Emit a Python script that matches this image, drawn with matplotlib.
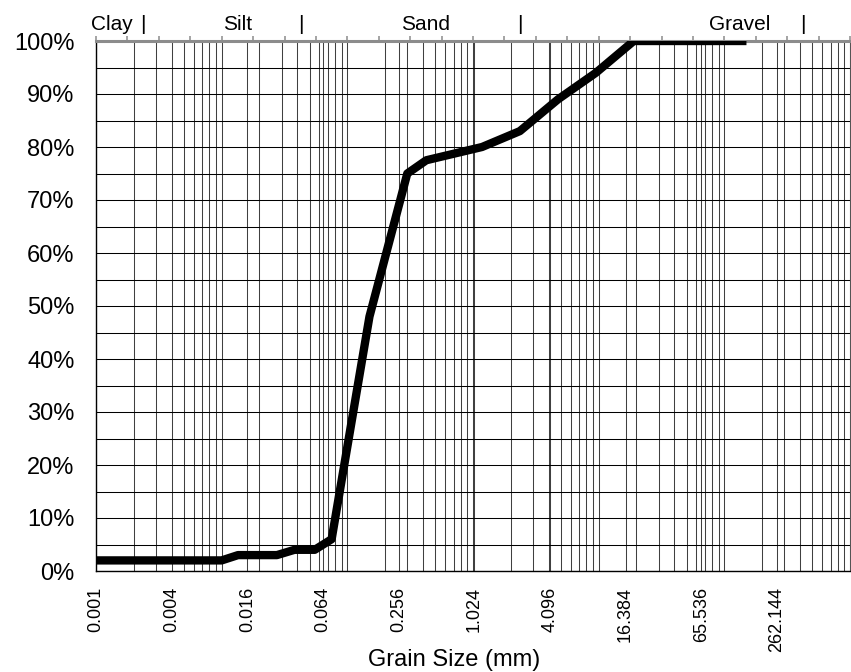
import matplotlib
matplotlib.use("Agg")
import matplotlib.pyplot as plt
from matplotlib.ticker import FixedLocator, NullLocator, LogLocator, NullFormatter

plt.rcParams["font.family"] = ["Liberation Sans", "DejaVu Sans"]

# Particle-size distribution (sieve + hydrometer)
grain_size_mm = [0.001, 0.01, 0.0135, 0.0275, 0.038, 0.055, 0.075, 0.15,
                 0.3, 0.425, 1.18, 2.36, 4.75, 9.5, 19.0, 150.0]
percent_finer = [2, 2, 3, 3, 4, 4, 6, 48, 75, 77.5, 80, 83, 89, 94, 100, 100]

size_ticks = [0.001, 0.004, 0.016, 0.064, 0.256, 1.024, 4.096, 16.384,
              65.536, 262.144]
size_tick_labels = ["0.001", "0.004", "0.016", "0.064", "0.256", "1.024",
                    "4.096", "16.384", "65.536", "262.144"]
percent_ticks = [0, 10, 20, 30, 40, 50, 60, 70, 80, 90, 100]
percent_tick_labels = ["0%", "10%", "20%", "30%", "40%", "50%", "60%",
                       "70%", "80%", "90%", "100%"]
soil_classes = ["Clay", "Silt", "Sand", "Gravel"]

W, H = 851, 672
fig = plt.figure(figsize=(W / 100, H / 100), dpi=100)
L, R, T, B = 96, 850, 41, 571
ax = fig.add_axes([L / W, 1 - B / H, (R - L) / W, (B - T) / H])

ax.set_xscale("log")
ax.set_xlim(0.001, 1000)
ax.set_ylim(0, 100)

# grid: decade subdivisions plus the labelled size ticks
ax.xaxis.set_major_locator(FixedLocator(size_ticks))
ax.set_xticklabels(size_tick_labels, rotation=90, fontsize=13)
ax.xaxis.set_minor_locator(LogLocator(base=10, subs=range(1, 10), numticks=50))
ax.xaxis.set_minor_formatter(NullFormatter())
ax.yaxis.set_major_locator(FixedLocator(percent_ticks))
ax.set_yticklabels(percent_tick_labels, fontsize=17)
ax.yaxis.set_minor_locator(FixedLocator([5, 15, 25, 35, 45, 55, 65, 75, 85, 95]))

ax.grid(True, axis="x", which="both", color="#404040", lw=0.75)
ax.grid(True, axis="y", which="both", color="black", lw=0.75)
ax.set_axisbelow(True)

ax.tick_params(axis="x", which="both", length=0, pad=11.5)
ax.tick_params(axis="y", which="both", length=0, pad=15.5)

for side in ("left", "bottom"):
    ax.spines[side].set_color("black")
    ax.spines[side].set_linewidth(1.0)
ax.spines["right"].set_color("#555555")
ax.spines["right"].set_linewidth(0.75)
ax.spines["top"].set_color("#8c8c8c")
ax.spines["top"].set_linewidth(2.2)

ax.plot(grain_size_mm, percent_finer, color="black", lw=6.0,
        solid_joinstyle="round", solid_capstyle="butt", zorder=4)

# upper scale: evenly spaced grey ticks, quarter-decade steps
top = ax.twiny()
top.set_xscale("log")
top.set_xlim(ax.get_xlim())
top.xaxis.set_major_locator(FixedLocator([10 ** (k / 4) for k in range(-12, 13)]))
top.xaxis.set_minor_locator(NullLocator())
top.tick_params(axis="x", which="major", direction="out", length=3.8,
                width=1.1, color="#8c8c8c", labeltop=False)
for s in top.spines.values():
    s.set_visible(False)

# soil class labels along the top
def px(x):
    return (x - L) / (R - L)

label_y = (B - 30) / (B - T)
class_x = [91, 223, 401, 709]
for name, x in zip(soil_classes, class_x):
    ax.text(px(x), label_y, name, transform=ax.transAxes, fontsize=15,
            ha="left", va="baseline")
for x in [143, 301, 520, 803]:
    ax.text(px(x), label_y, "|", transform=ax.transAxes, fontsize=15,
            ha="center", va="baseline")

ax.set_xlabel("Grain Size (mm)", fontsize=17)
ax.xaxis.set_label_coords(px(454), -(666 - B) / (B - T))
ax.xaxis.label.set_va("baseline")

fig.savefig("out.png", dpi=100)
